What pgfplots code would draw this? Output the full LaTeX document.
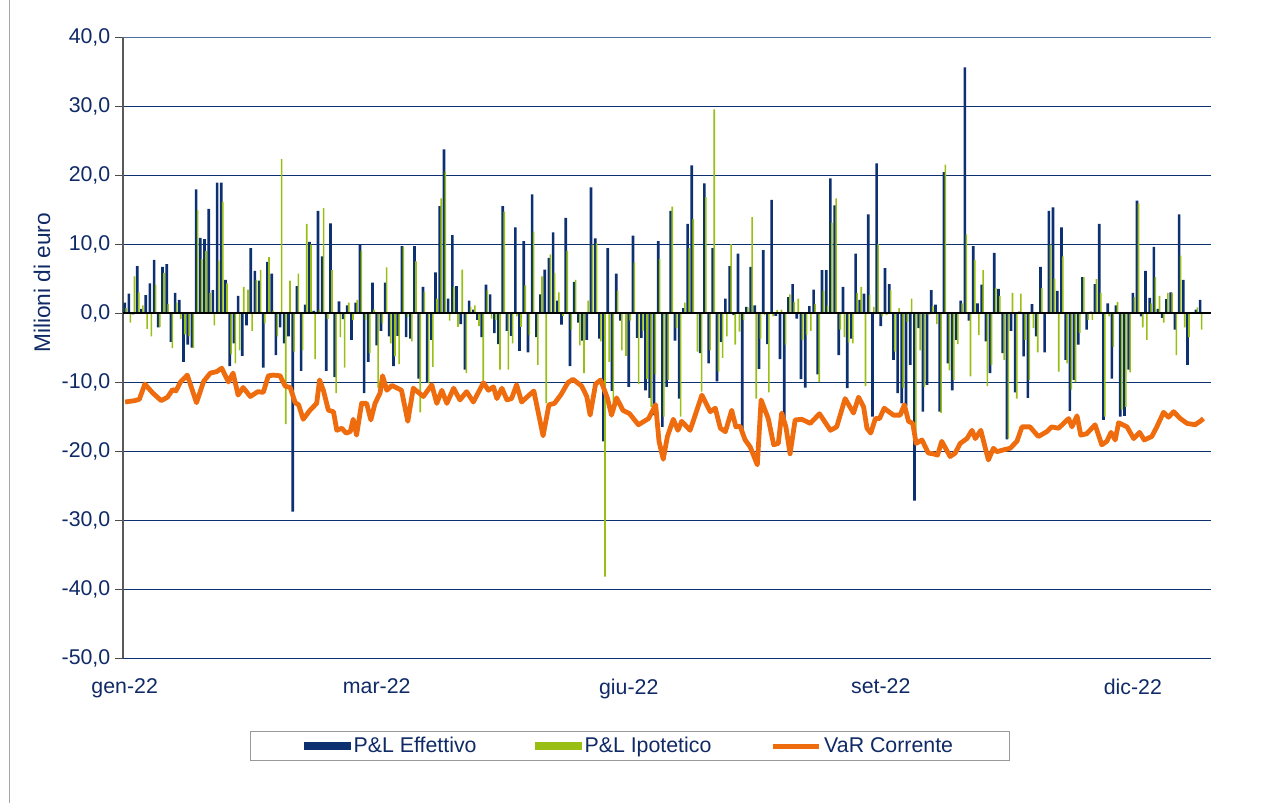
\documentclass[border=0pt]{standalone}
\usepackage{fontspec}
\setmainfont{Liberation Sans}
\usepackage{pgfplots}
\usepackage{pgfplotstable}
\pgfplotsset{compat=1.18}

\definecolor{pnavy}{RGB}{12,48,112}
\definecolor{plime}{RGB}{153,190,20}
\definecolor{porange}{RGB}{238,108,14}
\definecolor{ptext}{RGB}{16,42,102}
\definecolor{ptop}{RGB}{80,112,165}

% giorno, P&L effettivo, P&L ipotetico
\pgfplotstableread{
i E I
0 1.5 0.7
1 2.8 -1.4
2 -0.2 5.3
3 6.8 3.0
4 0.6 1.1
5 2.6 -2.3
6 4.3 -3.4
7 7.7 4.1
8 -2.1 -2.0
9 6.7 5.8
10 7.1 1.3
11 -4.2 -5.1
12 2.9 1.5
13 1.9 -0.9
14 -7.1 -3.1
15 -4.6 -3.4
16 -5.0 -5.1
17 17.9 14.9
18 10.9 7.8
19 10.7 9.0
20 15.1 2.9
21 3.3 -1.8
22 18.9 7.6
23 18.9 16.1
24 4.8 4.3
25 -7.7 -6.0
26 -4.4 -7.3
27 2.5 -5.4
28 -6.2 3.8
29 -1.8 3.4
30 9.4 -2.6
31 6.1 4.8
32 4.7 6.2
33 -7.9 -1.5
34 7.4 8.1
35 5.7 0.3
36 -6.1 -3.4
37 -2.1 22.3
38 -4.4 -16.1
39 -3.4 4.7
40 -28.8 -5.6
41 3.9 5.7
42 -8.4 -5.4
43 1.2 12.9
44 10.3 9.9
45 0.3 -6.7
46 14.8 0.5
47 8.2 15.2
48 -8.4 -0.9
49 13.0 6.2
50 -9.3 -11.6
51 1.7 -3.5
52 -0.9 -7.9
53 1.1 1.5
54 -3.9 -1.0
55 1.5 1.9
56 10.0 9.0
57 -11.6 -1.0
58 -7.1 -5.8
59 4.4 0.5
60 -4.7 -10.9
61 -2.6 -1.5
62 4.4 6.6
63 -3.4 -4.4
64 -7.7 -6.3
65 -3.3 -7.4
66 9.7 9.6
67 -3.5 -0.6
68 -3.7 -4.1
69 9.7 7.5
70 -9.5 -14.4
71 3.8 3.1
72 -10.0 -10.2
73 -3.9 -7.8
74 5.9 2.1
75 15.5 16.6
76 23.7 20.5
77 2.1 -1.1
78 11.3 3.8
79 3.9 -2.0
80 -1.6 6.3
81 -8.2 -8.7
82 1.8 0.9
83 0.5 1.1
84 -1.0 -1.9
85 -3.5 -9.8
86 4.1 3.3
87 2.7 -0.8
88 -2.9 -1.0
89 -4.5 -8.2
90 15.5 14.7
91 -2.6 -8.2
92 -3.3 -4.4
93 12.4 -0.5
94 -5.5 -2.0
95 10.4 4.0
96 -5.7 -3.2
97 17.2 11.8
98 -3.5 -7.5
99 2.7 5.3
100 6.3 -13.1
101 8.0 8.5
102 11.7 5.8
103 1.8 3.0
104 -1.7 -0.4
105 13.8 9.0
106 -7.7 -2.4
107 4.5 4.8
108 -1.4 -4.7
109 -4.0 -8.7
110 -3.9 1.8
111 18.2 9.9
112 10.8 10.1
113 -3.7 -4.1
114 -18.6 -38.2
115 9.4 -7.1
116 -11.3 -13.1
117 5.7 3.2
118 -1.1 -5.4
119 -0.1 -6.2
120 -10.7 -1.1
121 11.2 7.3
122 -3.6 -10.3
123 -3.6 -2.6
124 -11.2 -9.6
125 -12.3 -13.6
126 -14.8 -8.9
127 10.4 7.8
128 -16.5 -15.0
129 -10.7 -9.7
130 14.8 15.4
131 -4.0 -2.2
132 -12.4 -15.0
133 0.7 1.5
134 12.9 9.4
135 21.4 13.6
136 0.1 -5.6
137 -5.8 -11.4
138 18.8 16.8
139 -7.3 -5.4
140 9.4 29.5
141 -9.9 -8.5
142 -4.2 -6.5
143 2.1 -3.4
144 6.8 10.0
145 -0.3 -4.6
146 8.6 -2.7
147 -17.4 -1.0
148 0.9 0.8
149 6.7 13.9
150 1.1 -12.4
151 -8.1 -3.7
152 9.1 -0.3
153 -4.5 -11.5
154 16.4 -0.5
155 -0.4 0.4
156 -6.7 0.5
157 -15.7 -4.6
158 2.3 2.7
159 4.2 1.6
160 -0.8 2.1
161 -9.6 -3.9
162 -10.8 -3.2
163 1.0 -2.6
164 3.4 1.3
165 -8.9 -10.0
166 6.2 3.2
167 6.2 1.1
168 19.5 13.1
169 15.6 16.6
170 -6.1 -2.4
171 3.8 -3.5
172 -10.9 -4.3
173 -3.7 -4.4
174 8.6 2.9
175 1.9 3.8
176 2.8 -10.6
177 14.3 2.6
178 -15.0 0.9
179 21.7 10.0
180 -1.9 -0.5
181 6.5 -0.3
182 4.2 3.3
183 -6.8 -5.6
184 -11.6 0.7
185 -13.1 -10.9
186 -13.5 -1.3
187 -7.5 2.1
188 -27.2 -17.2
189 -2.2 -5.4
190 -14.3 -10.7
191 -10.4 -0.3
192 3.3 1.0
193 1.2 -1.6
194 -14.3 -14.5
195 20.4 21.5
196 -7.3 -8.3
197 -11.2 -9.7
198 -3.9 -4.5
199 1.8 1.4
200 35.6 11.4
201 -1.1 -9.2
202 9.7 7.7
203 1.4 -3.2
204 4.1 6.2
205 -4.1 -10.6
206 -8.7 -7.5
207 8.7 3.6
208 3.5 2.5
209 -5.8 -6.8
210 -18.3 -18.2
211 -2.6 2.9
212 -11.5 -12.4
213 0.2 2.8
214 -6.3 -3.9
215 -12.3 -9.7
216 1.3 -2.2
217 -3.4 -5.7
218 6.7 3.6
219 -5.7 0.1
220 14.8 9.9
221 15.3 5.0
222 3.2 -8.5
223 12.4 8.2
224 -6.8 -7.3
225 -14.2 -11.1
226 -9.7 -10.0
227 -4.6 -2.9
228 5.2 5.2
229 -2.4 -1.0
230 0.2 -1.0
231 4.2 4.9
232 12.9 2.9
233 -15.5 -15.0
234 1.4 -0.5
235 -9.5 -4.9
236 1.1 1.6
237 -15.0 -14.0
238 -14.9 -13.6
239 -8.2 -8.6
240 2.9 2.3
241 16.3 15.9
242 -0.5 -2.1
243 6.1 -3.9
244 2.2 1.4
245 9.6 5.2
246 0.6 2.5
247 -0.7 -1.4
248 2.0 2.9
249 3.0 2.9
250 -2.4 -6.1
251 14.3 8.3
252 4.8 -2.1
253 -7.5 -3.5
254 0.1 0.1
255 0.5 0.8
256 1.9 -2.4
}\pnl

% VaR corrente
\pgfplotstableread{
i V
0.1 -12.9
2.4 -12.7
3.5 -12.5
4.8 -10.3
6.7 -11.6
8.7 -12.7
10.2 -12.2
11.4 -11.1
12.2 -11.3
13.3 -10.0
14.9 -9.0
17.1 -13.0
18.8 -9.9
20.4 -8.7
21.9 -8.5
23.1 -8.0
24.7 -10.0
25.8 -8.7
27.0 -11.9
28.2 -10.8
29.9 -12.1
31.7 -11.4
33.0 -11.5
34.2 -9.1
35.4 -9.0
37.0 -9.1
38.2 -10.6
39.4 -10.8
40.6 -13.0
41.4 -13.3
42.5 -15.4
44.1 -14.1
45.7 -13.1
46.4 -9.7
47.3 -11.2
48.5 -14.1
49.7 -14.3
50.5 -17.0
51.7 -16.7
52.7 -17.4
53.7 -17.2
54.4 -15.4
55.2 -17.7
56.4 -13.1
57.6 -13.1
58.6 -15.5
59.6 -13.1
60.8 -11.6
61.4 -9.1
62.4 -11.2
63.6 -10.5
65.9 -11.2
67.4 -15.7
68.7 -10.9
71.1 -12.1
73.1 -10.4
74.3 -13.1
75.5 -11.2
76.7 -13.1
78.3 -10.9
79.8 -12.6
81.4 -11.4
83.0 -12.9
85.4 -10.1
86.6 -11.2
87.8 -10.7
88.6 -12.4
89.8 -10.9
91.0 -12.6
92.1 -12.4
93.3 -10.4
94.5 -12.9
96.1 -12.0
97.4 -11.3
99.6 -17.8
101.0 -13.3
102.3 -13.1
103.9 -11.8
105.5 -10.1
106.7 -9.6
108.8 -10.6
110.0 -12.1
110.8 -14.8
112.1 -10.3
113.3 -9.7
114.9 -12.3
115.9 -14.8
117.1 -12.3
118.6 -14.1
120.2 -14.6
122.3 -16.2
124.7 -15.3
126.4 -13.3
127.2 -18.6
128.2 -21.2
129.2 -17.9
130.6 -15.4
131.7 -17.0
132.6 -15.7
134.6 -17.0
136.2 -14.1
137.4 -11.9
139.4 -14.3
140.6 -13.8
141.8 -16.7
143.0 -17.2
144.5 -14.1
145.5 -16.5
146.5 -16.4
147.7 -18.4
148.9 -19.4
150.6 -22.0
151.5 -12.6
153.2 -15.3
154.5 -19.1
155.6 -18.9
156.4 -14.5
157.4 -16.5
158.4 -20.4
159.6 -15.5
161.2 -15.4
163.2 -16.0
165.4 -14.6
168.0 -17.0
169.5 -16.5
171.5 -12.4
173.5 -14.5
174.7 -12.2
175.9 -13.6
176.7 -16.7
177.6 -17.4
178.7 -15.3
179.7 -15.3
180.8 -13.8
183.0 -14.8
184.6 -14.8
185.6 -13.3
186.6 -15.7
187.6 -16.0
188.4 -18.9
189.8 -18.4
191.3 -20.3
192.5 -20.4
193.5 -20.6
194.5 -18.6
196.5 -20.8
197.7 -20.3
198.9 -18.9
200.5 -18.2
201.7 -17.0
202.5 -18.2
203.8 -17.0
205.6 -21.3
206.8 -19.6
207.6 -20.1
208.8 -19.9
210.8 -19.6
212.4 -18.6
213.6 -16.5
215.5 -16.5
217.5 -17.9
219.5 -17.2
220.7 -16.5
222.3 -16.7
223.5 -16.0
224.7 -15.3
225.5 -16.5
226.7 -14.9
227.6 -17.7
229.0 -17.5
231.0 -16.2
232.6 -19.1
233.8 -18.6
234.8 -17.3
235.8 -18.4
236.6 -15.9
238.6 -16.5
240.2 -18.2
241.6 -17.3
242.7 -18.4
244.5 -17.9
245.7 -16.5
247.3 -14.4
248.5 -15.1
249.7 -14.3
251.3 -15.3
252.9 -16.0
254.8 -16.2
256.0 -15.7
256.8 -15.3
}\var

\begin{document}
\begin{tikzpicture}
\useasboundingbox (-92.25pt,-108.75pt) rectangle ++(953.25pt,602.25pt);
\draw[gray!70, line width=0.75pt] (-84.75pt,-108.75pt) -- ++(0,602.25pt);
\begin{axis}[
  scale only axis, width=816pt, height=465.75pt,
  xmin=-0.4, xmax=258.6, ymin=-50, ymax=40,
  ytick distance=10,
  xtick={0,60,120,180,240},
  xticklabels={gen-22,mar-22,giu-22,set-22,dic-22},
  axis x line*=bottom, axis y line*=left,
  x axis line style={draw=pnavy, line width=0.75pt, -},
  y axis line style={draw=black!65, line width=0.9pt, -},
  ymajorgrids, grid style={pnavy, line width=0.75pt},
  tick align=outside, major tick length=6pt,
  xtick style={draw=none},
  ytick style={draw=black!70, line width=0.75pt},
  tick label style={font=\fontsize{16}{19}\selectfont, text=ptext},
  yticklabel style={/pgf/number format/.cd, fixed, fixed zerofill, precision=1, use comma, assume math mode=true},
  xticklabel style={yshift=-6pt},
  ylabel={Milioni di euro},
  ylabel style={at={(rel axis cs:-0.0744,0.604)}, anchor=center, font=\fontsize{17}{20}\selectfont, text=ptext},
  legend columns=3,
  legend style={at={(rel axis cs:0.466,-0.1176)}, anchor=north, draw=gray!80, line width=0.75pt,
    font=\fontsize{16}{19}\selectfont, text=ptext, inner xsep=40pt, inner ysep=2.5pt,
    /tikz/every even column/.append style={column sep=42pt}},
  legend cell align=left,
]
\addplot[ybar, bar width=2pt, bar shift=0pt, fill=pnavy, draw=none,
  legend image code/.code={\fill[pnavy] (0pt,-3pt) rectangle (35pt,3pt);}]
  table[x=i, y=E] {\pnl};
\addplot[ybar, bar width=1.2pt, bar shift=1.1pt, fill=plime, draw=none,
  legend image code/.code={\fill[plime] (0pt,-3pt) rectangle (35pt,3pt);}]
  table[x=i, y=I] {\pnl};
\draw[black, line width=1.2pt] (axis cs:\pgfkeysvalueof{/pgfplots/xmin},0) -- (axis cs:\pgfkeysvalueof{/pgfplots/xmax},0);
\draw[ptop, line width=1.1pt] (axis cs:\pgfkeysvalueof{/pgfplots/xmin},40) -- (axis cs:\pgfkeysvalueof{/pgfplots/xmax},40);
\addplot[porange, line width=3.6pt, line join=round, mark=none,
  legend image code/.code={\draw[porange, line width=3.6pt] (0pt,0pt) -- (35pt,0pt);}]
  table[x=i, y=V] {\var};
\legend{P\&L Effettivo, P\&L Ipotetico, VaR Corrente}
\end{axis}
\end{tikzpicture}
\end{document}
